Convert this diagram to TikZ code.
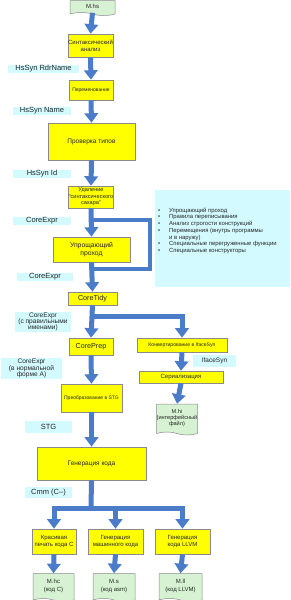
\documentclass[tikz,border=0pt]{standalone}
\usepackage{fontspec}
\setmainfont{Liberation Sans}
\usetikzlibrary{arrows.meta,shapes.symbols}
\definecolor{flowblue}{HTML}{4A7CC9}
\definecolor{boxyellow}{HTML}{FFFF00}
\definecolor{boxedge}{HTML}{8A8A8A}
\definecolor{labcyan}{HTML}{D2FAFF}
\definecolor{docgreen}{HTML}{D6F2D2}
\definecolor{txtdark}{HTML}{262626}
\begin{document}
\begin{tikzpicture}[x=1pt,y=-1pt,
  box/.style={draw=boxedge, fill=boxyellow, line width=0.6pt, inner sep=0pt, align=center,
    text=txtdark, font=\fontsize{6}{7}\selectfont},
  doc/.style={tape, tape bend top=none, tape bend bottom=out and in, tape bend height=3pt,
    draw=boxedge, fill=docgreen, line width=0.5pt, inner sep=0pt, align=center,
    text=txtdark, font=\fontsize{6}{6.6}\selectfont},
  lab/.style={fill=labcyan, inner sep=0pt, align=center, text=txtdark,
    font=\fontsize{7.5}{7.5}\selectfont},
  flow/.style={draw=flowblue, line width=5pt, -{Triangle[width=13.5pt,length=9.5pt]}},
  flowline/.style={draw=flowblue, line width=5pt},
  loopline/.style={draw=flowblue, line width=4.5pt}]
\useasboundingbox (0,0) rectangle (291,600);

% main column
\node[doc, minimum width=45pt, minimum height=15pt] (mhs) at (92.5,6.5) {M.hs};
\node[box, minimum width=45pt, minimum height=23pt] (syn) at (90.5,45.5) {Синтаксический\\анализ};
\node[lab, minimum width=71pt, minimum height=8pt] (l1) at (43.5,69) {HsSyn RdrName};
\node[box, minimum width=44pt, minimum height=20pt, font=\fontsize{5}{6}\selectfont] (ren) at (91,90) {Переменование};
\node[lab, minimum width=58pt, minimum height=8pt] (l2) at (42,111) {HsSyn Name};
\node[box, minimum width=87pt, minimum height=37pt, font=\fontsize{6.5}{7.5}\selectfont] (tc) at (91.5,141.5) {Проверка типов};
\node[lab, minimum width=58pt, minimum height=8pt] (l3) at (42,173.5) {HsSyn Id};
\node[box, minimum width=44pt, minimum height=22pt, font=\fontsize{5.6}{6.4}\selectfont] (des) at (91,197) {Удаление\\“синтаксического\\сахара”};
\node[lab, minimum width=58pt, minimum height=8pt] (l4) at (42,220.5) {CoreExpr};
\node[box, minimum width=77pt, minimum height=25pt, font=\fontsize{6.8}{7.6}\selectfont] (simp) at (91.5,249.5) {Упрощающий\\проход};
\node[lab, minimum width=56pt, minimum height=8pt] (l5) at (45,276.5) {CoreExpr};
\node[box, minimum width=49pt, minimum height=13pt, font=\fontsize{7.2}{8}\selectfont] (tidy) at (92.5,298.5) {CoreTidy};
\node[lab, minimum width=56pt, minimum height=20pt, font=\fontsize{6.6}{6.3}\selectfont] (l6) at (43,322) {CoreExpr\\(с правильными\\именами)};
\node[box, minimum width=44pt, minimum height=17pt, font=\fontsize{7.2}{8}\selectfont] (prep) at (91,346.5) {CorePrep};
\node[lab, minimum width=61pt, minimum height=21pt, font=\fontsize{6.6}{6.3}\selectfont] (l7) at (31.5,368.5) {CoreExpr\\(в нормальной\\форме A)};
\node[box, minimum width=61pt, minimum height=28pt, font=\fontsize{5}{6}\selectfont] (stg) at (91.5,398) {Преобразование в STG};
\node[lab, minimum width=47pt, minimum height=12pt] (l8) at (48.5,427) {STG};
\node[box, minimum width=109pt, minimum height=33pt, font=\fontsize{6.5}{7.5}\selectfont] (gen) at (91.5,463.5) {Генерация кода};
\node[lab, minimum width=47pt, minimum height=11pt] (l10) at (48.5,492.5) {Cmm (C--)};

% right branch
\node[box, minimum width=90pt, minimum height=14pt, font=\fontsize{5.1}{6}\selectfont] (iface) at (182,345) {Конвертирование в IfaceSyn};
\node[lab, minimum width=43pt, minimum height=12pt, font=\fontsize{6.5}{7}\selectfont] (l9) at (214.5,361) {IfaceSyn};
\node[box, minimum width=84pt, minimum height=12pt, font=\fontsize{6}{7}\selectfont] (ser) at (181,377) {Сериализация};
\node[doc, minimum width=40pt, minimum height=31pt, font=\fontsize{5.6}{6.4}\selectfont] (mhi) at (177,418) {M.hi\\(интерфейсный\\файл)};

% bottom row
\node[box, minimum width=44pt, minimum height=25pt, font=\fontsize{6}{7.5}\selectfont] (c1) at (54,541.5) {Красивая\\печать кода C};
\node[box, minimum width=55pt, minimum height=25pt, font=\fontsize{6}{7.5}\selectfont] (c2) at (115.5,541.5) {Генерация\\машинного кода};
\node[box, minimum width=55pt, minimum height=25pt, font=\fontsize{6}{7.5}\selectfont] (c3) at (182.5,541.5) {Генерация\\кода LLVM};
\node[doc, minimum width=41pt, minimum height=28pt, font=\fontsize{6}{7.2}\selectfont] (d1) at (53.5,586) {M.hc\\(код C)};
\node[doc, minimum width=42pt, minimum height=28pt, font=\fontsize{6}{7.2}\selectfont] (d2) at (114,586) {M.s\\(код asm)};
\node[doc, minimum width=43pt, minimum height=28pt, font=\fontsize{6}{7.2}\selectfont] (d3) at (180.5,586) {M.ll\\(код LLVM)};

% bullet note
\node[fill=labcyan, minimum width=135pt, minimum height=97pt, inner sep=0pt] (note) at (222.5,238.5) {};
\node[anchor=north west, inner sep=0pt, align=left, text=txtdark, font=\fontsize{5.9}{6.75}\selectfont] (notetext) at (158,207.5)
 {\makebox[11pt][l]{\textbullet}Упрощающий проход\\
  \makebox[11pt][l]{\textbullet}Правила переписывания\\
  \makebox[11pt][l]{\textbullet}Анализ строгости конструкций\\
  \makebox[11pt][l]{\textbullet}Перемещения (внутрь программы\\
  \makebox[11pt][l]{}и в наружу)\\
  \makebox[11pt][l]{\textbullet}Специальные перегруженные функции\\
  \makebox[11pt][l]{\textbullet}Специальные конструкторы};

% loop
\coordinate (loopA) at (91,220);
\coordinate (loopR) at (150,245);
\coordinate (loopB) at (91,269);
\draw[loopline] (loopA) -| (loopR) |- (loopB);

% main flow
\draw[flow] (mhs.south) -- (syn.north);
\draw[flow] (syn.south) -- (ren.north);
\draw[flow] (ren.south) -- (tc.north);
\draw[flow] (tc.south) -- (des.north);
\draw[flow] (des.south) -- (simp.north);
\draw[flow] (simp.south) -- (tidy.north);
\draw[flow] (tidy.south) -- (prep.north);
\draw[flow] (prep.south) -- (stg.north);
\draw[flow] (stg.south) -- (gen.north);

% branch to interface
\coordinate (br1) at (91,316);
\draw[flow] (br1) -| (iface.north);
\draw[flow] (iface.south) -- (ser.north);
\draw[flow] (ser.south) -- (mhi.north);

% code generation branches
\coordinate (bj) at (91,508);
\draw[flowline] (gen.south) -- (bj);
\draw[flow] (bj) -| (c1.north);
\draw[flow] (bj) -| (c2.north);
\draw[flow] (bj) -| (c3.north);
\draw[flow] (c1.south) -- (d1.north);
\draw[flow] (c2.south) -- (d2.north);
\draw[flow] (c3.south) -- (d3.north);
\end{tikzpicture}
\end{document}
